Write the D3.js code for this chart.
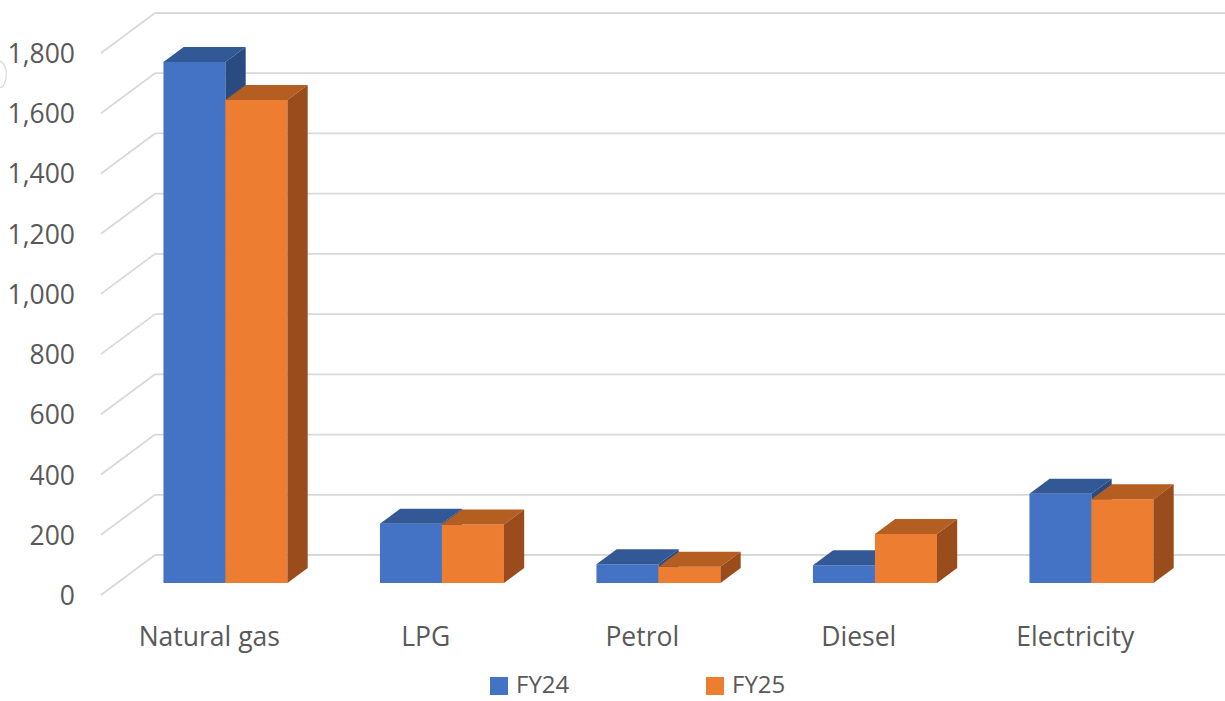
<!DOCTYPE html>
<html><head><meta charset="utf-8">
<script src="https://cdn.jsdelivr.net/npm/d3@7/dist/d3.min.js"></script>
<style>html,body{margin:0;padding:0;background:#fff;}svg{display:block;}</style>
</head><body>
<script>
const categories = ["Natural gas", "LPG", "Petrol", "Diesel", "Electricity"];
const series = ["FY24", "FY25"];
const fy24 = [1730, 197, 62, 59, 296];
const fy25 = [1604, 194, 54, 163, 278];
const yTicks = [0, 200, 400, 600, 800, 1000, 1200, 1400, 1600, 1800];

const W = 1225, H = 701;
const svg = d3.select("body").append("svg").attr("width", W).attr("height", H);

const baseY = 595, frontLeft = 101, frontRight = 1183.5;
const depthDX = 54, depthDY = -40;
const barD0 = 0.3, barD1 = 0.675;
const textColor = "#595959";
const font = "'Open Sans', 'Noto Sans', sans-serif";

const y = d3.scaleLinear().domain([0, 1800]).range([0, 542]);
const x0 = d3.scaleBand().domain(categories).range([frontLeft, frontRight]);
const groupW = 124;
const x1 = d3.scaleBand().domain(series).range([0, groupW]);
const P = (x, v, d) => [x + d * depthDX, baseY - y(v) + d * depthDY];

const colors = {
  FY24: {front: "#4472C4", top: "#335896", side: "#2A4A82"},
  FY25: {front: "#ED7D31", top: "#B55E22", side: "#9A4C1C"}
};

// gridlines
const g = svg.append("g");
yTicks.forEach(t => {
  const a = P(frontLeft, t, 0), b = P(frontLeft, t, 1);
  g.append("line").attr("x1", a[0]).attr("y1", a[1]).attr("x2", b[0]).attr("y2", b[1])
    .attr("stroke", "#d9d9d9").attr("stroke-width", 1.8);
  g.append("line").attr("x1", b[0]).attr("y1", b[1]).attr("x2", W).attr("y2", b[1])
    .attr("stroke", "#d9d9d9").attr("stroke-width", 1.8);
});

// y labels
const yAxis = d3.axisLeft(d3.scaleLinear().domain([0, 1800]).range([baseY, baseY - 542]))
  .tickValues(yTicks).tickFormat(d3.format(",")).tickSize(0).tickPadding(0);
const ya = svg.append("g").attr("transform", "translate(75,1)").call(yAxis);
ya.select(".domain").remove();
ya.selectAll("text").attr("fill", textColor).style("font-family", font).style("font-size", "26.5px");

// bars
const data = {FY24: fy24, FY25: fy25};
const poly = pts => pts.map(p => p.join(",")).join(" ");
categories.forEach((c, i) => {
  series.forEach(s => {
    const v = data[s][i];
    const xl = x0(c) + x0.bandwidth() / 2 - groupW / 2 + x1(s);
    const xr = xl + x1.bandwidth();
    const col = colors[s];
    const gb = svg.append("g");
    gb.append("polygon").attr("points", poly([P(xl, 0, barD0), P(xr, 0, barD0), P(xr, v, barD0), P(xl, v, barD0)])).attr("fill", col.front);
    gb.append("polygon").attr("points", poly([P(xl, v, barD0), P(xr, v, barD0), P(xr, v, barD1), P(xl, v, barD1)])).attr("fill", col.top);
    gb.append("polygon").attr("points", poly([P(xr, 0, barD0), P(xr, 0, barD1), P(xr, v, barD1), P(xr, v, barD0)])).attr("fill", col.side);
  });
});

// category labels
const xAxis = d3.axisBottom(x0).tickSize(0).tickPadding(0);
const xa = svg.append("g").attr("transform", "translate(0,627)").call(xAxis);
xa.select(".domain").remove();
xa.selectAll("text").attr("fill", textColor).style("font-family", font).style("font-size", "26.5px");

// legend
const legX = {FY24: 490, FY25: 706};
series.forEach(s => {
  svg.append("rect").attr("x", legX[s]).attr("y", 677).attr("width", 18).attr("height", 18).attr("fill", colors[s].front);
  svg.append("text").attr("x", legX[s] + 26).attr("y", 693).text(s)
    .attr("fill", textColor).style("font-family", font).style("font-size", "24px");
});

// faint arc artifact at left edge
svg.append("path").attr("d", "M0,61 A8,12 0 0 1 6,75 A8,12 0 0 1 0,88")
  .attr("fill", "none").attr("stroke", "#d9d9d9").attr("stroke-width", 1.2);
</script>
</body></html>
